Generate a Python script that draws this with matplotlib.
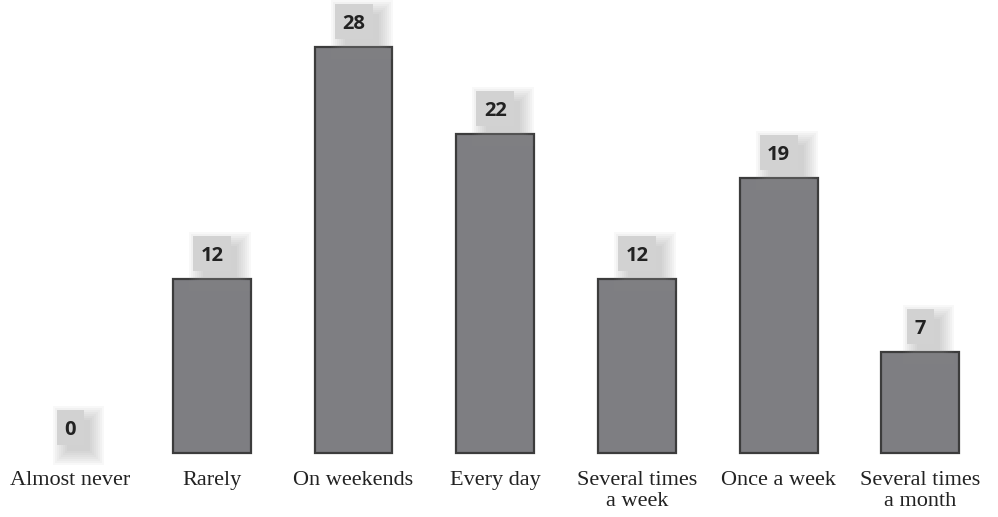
import matplotlib
matplotlib.use("Agg")
import matplotlib.pyplot as plt
import matplotlib.transforms as mtransforms
from matplotlib.patches import Rectangle

categories = ["Almost never", "Rarely", "On weekends", "Every day",
              "Several times\na week", "Once a week", "Several times\na month"]
values = [0, 12, 28, 22, 12, 19, 7]

fig = plt.figure(figsize=(9.98, 5.17), dpi=100)
ax = fig.add_axes([0, 0, 1, 1])
ax.set_xlim(-0.494, 6.547)
ax.set_ylim(-4.41, 31.24)
ax.axis("off")

x = list(range(len(categories)))
for xi, v in zip(x, values):
    ax.bar(xi, v, width=0.55, color="#7e7e82", edgecolor="#3c3c3c",
           linewidth=1.6 if v > 0 else 0, zorder=3)

for xi, v in zip(x, values):
    # box geometry in inches, anchored at the top of each bar
    anchor = fig.dpi_scale_trans + mtransforms.ScaledTranslation(xi, v, ax.transData)
    w = 0.38 if len(str(v)) > 1 else 0.27
    h = 0.35
    cy = 0.255
    # soft drop shadow, built from stacked translucent layers
    for grow in [0.12, 0.10, 0.08, 0.06, 0.04, 0.02, 0.0, -0.02]:
        ax.add_patch(Rectangle((-w / 2 + 0.08 - grow, cy - h / 2 - 0.08 - grow),
                               w + 2 * grow, h + 2 * grow, transform=anchor,
                               facecolor="#909090", edgecolor="none", alpha=0.06, zorder=4))
    ax.add_patch(Rectangle((-w / 2, cy - h / 2), w, h, transform=anchor,
                           facecolor="#d2d2d2", edgecolor="none", zorder=5))
    ax.text(0, cy, str(v), transform=anchor, ha="center", va="center_baseline",
            fontsize=14.5, fontweight="bold", family="Open Sans", color="#222222", zorder=6)

for xi, name in zip(x, categories):
    ax.text(xi, 0, name,
            transform=mtransforms.offset_copy(ax.transData, fig=fig, x=0, y=-13, units="points"),
            ha="center", va="top", fontsize=16, family="Liberation Serif",
            color="#222222", linespacing=1.15)

fig.savefig("out.png", dpi=100)
